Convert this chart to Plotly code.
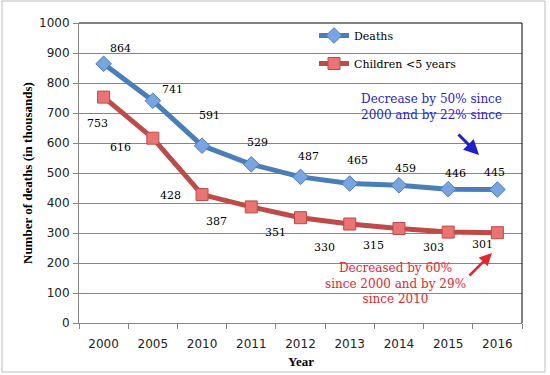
import plotly.graph_objects as go

years = ["2000", "2005", "2010", "2011", "2012", "2013", "2014", "2015", "2016"]
deaths = [864, 741, 591, 529, 487, 465, 459, 446, 445]
children = [753, 616, 428, 387, 351, 330, 315, 303, 301]

# label offsets (pixels) relative to points
deaths_off = [(17, 15), (20, 11), (7, 30), (6, 22), (8, 20), (8, 23), (7, 17), (7, 16), (-3, 17)]
child_off = [(-6, -26), (-32, -9), (-32, -1), (-35, -15), (-25, -15), (-25, -23), (-25, -17), (-15, -15), (-15, -12)]

idx = list(range(len(years)))
bounds = [i - 0.5 for i in range(len(years) + 1)]

L, R, T, B = 79, 522, 23, 323
W, H = 550, 375
def px(x): return (x - L) / (R - L)
def py(y): return (B - y) / (B - T)

fig = go.Figure()
fig.add_trace(go.Scatter(
    x=idx, y=deaths, name="Deaths", mode="lines+markers", legendgroup="a",
    line=dict(color="#4a7ebb", width=5),
    marker=dict(symbol="diamond", size=12, color="#78a4e2", line=dict(color="#4a7ebb", width=1)),
))
fig.add_trace(go.Scatter(
    x=idx, y=children, name="Children <5 years", mode="lines+markers", legendgroup="b",
    line=dict(color="#be4b48", width=5),
    marker=dict(symbol="square", size=12, color="#ea7472", line=dict(color="#be4b48", width=1)),
))

ann = []
lab_font = dict(family="DejaVu Serif", size=11, color="#000000")
for i, v, (dx, dy) in zip(idx, deaths, deaths_off):
    ann.append(dict(x=i, y=v, text=str(v), showarrow=False, xshift=dx, yshift=dy, font=lab_font))
for i, v, (dx, dy) in zip(idx, children, child_off):
    ann.append(dict(x=i, y=v, text=str(v), showarrow=False, xshift=dx, yshift=dy, font=lab_font))

C = dict(xanchor="center", yanchor="middle")
ann.append(dict(xref="paper", yref="paper", x=px(431), y=py(106.5), showarrow=False, **C,
                text="Decrease by 50% since<br>2000 and by 22% since",
                font=dict(family="DejaVu Serif", size=12, color="#1f1fcf")))
ann.append(dict(xref="paper", yref="paper", x=px(395), y=py(283), showarrow=False, **C,
                text="Decreased by 60%<br>since 2000 and by 29%<br>since 2010",
                font=dict(family="DejaVu Serif", size=12, color="#e3262e")))
ann.append(dict(xref="paper", yref="paper", x=px(479), y=py(155), text="", showarrow=True,
                ax=-22, ay=-22, arrowhead=2, arrowsize=1, arrowwidth=3, arrowcolor="#1f1fcf"))
ann.append(dict(xref="paper", yref="paper", x=px(492), y=py(253), text="", showarrow=True,
                ax=-24, ay=24, arrowhead=2, arrowsize=1, arrowwidth=2.5, arrowcolor="#e3262e"))
ann.append(dict(xref="paper", yref="paper", x=px(27), y=py(173), showarrow=False, textangle=-90, **C,
                text="<b>Number of deaths (in thousands)</b>",
                font=dict(family="Liberation Serif", size=13, color="#000000")))
ann.append(dict(xref="paper", yref="paper", x=px(301), y=py(361), showarrow=False, **C,
                text="<b>Year</b>", font=dict(family="Liberation Serif", size=13, color="#000000")))

shapes = [
    dict(type="rect", xref="paper", yref="paper", x0=px(2), x1=px(545), y0=py(1), y1=py(372),
         line=dict(color="#bdbdbd", width=1)),
    dict(type="line", xref="paper", yref="paper", x0=0, x1=1, y0=1, y1=1, line=dict(color="#000000", width=1)),
    dict(type="line", xref="paper", yref="paper", x0=1, x1=1, y0=0, y1=1, line=dict(color="#000000", width=1)),
]

fig.update_layout(
    width=W, height=H,
    margin=dict(l=L, r=W - R, t=T, b=H - B),
    paper_bgcolor="white", plot_bgcolor="white",
    showlegend=True,
    legend=dict(x=px(314), y=py(21), xanchor="left", yanchor="top", bgcolor="rgba(0,0,0,0)",
                font=dict(family="DejaVu Serif", size=11, color="#000000"),
                tracegroupgap=9, traceorder="grouped"),
    annotations=ann, shapes=shapes,
    xaxis=dict(range=[bounds[0], bounds[-1]], tickmode="array", tickvals=idx, ticktext=years,
               showgrid=False, showline=True, linecolor="#868686", linewidth=1,
               ticks="", zeroline=False, ticklabelstandoff=10,
               minor=dict(tickmode="array", tickvals=bounds, ticks="outside", ticklen=5,
                          tickcolor="#868686", showgrid=False),
               tickfont=dict(family="DejaVu Sans", size=12, color="#222222"), fixedrange=True),
    yaxis=dict(range=[0, 1000], dtick=100, showgrid=True, gridcolor="#868686", gridwidth=1,
               showline=True, linecolor="#868686", linewidth=1, ticks="outside", ticklen=5,
               tickcolor="#868686", zeroline=False, ticklabelstandoff=1,
               tickfont=dict(family="DejaVu Sans", size=12, color="#222222"), fixedrange=True),
)

fig.write_html("out.html", config={"displayModeBar": False},
               post_script="document.body.style.margin='0';document.body.style.overflow='hidden';")
